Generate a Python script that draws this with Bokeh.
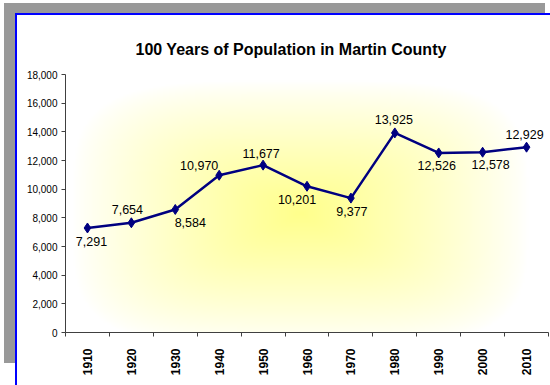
import math
import numpy as np
from bokeh.plotting import figure
from bokeh.models import (ColumnDataSource, FixedTicker, NumeralTickFormatter, Range1d)
from bokeh.core.properties import value
from bokeh.embed import file_html
from bokeh.resources import INLINE

# ---- data ----
title_text = "100 Years of Population in Martin County"
years = [1910, 1920, 1930, 1940, 1950, 1960, 1970, 1980, 1990, 2000, 2010]
population = [7291, 7654, 8584, 10970, 11677, 10201, 9377, 13925, 12526, 12578, 12929]
y_ticks = [0, 2000, 4000, 6000, 8000, 10000, 12000, 14000, 16000, 18000]

# label placement (pixels, screen direction) -- style only
label_dx = [4, -4, 15, -20, -2, -10, 1, -1, -2, 8, -2]
label_dy = [14, -13.5, 12.7, -9.5, -12, 13.5, 13.4, -13, 13, 12, -12.4]

FONT = "Liberation Sans"
NAVY = "#000080"
AXIS = "#404040"

src = ColumnDataSource(dict(
    year=years,
    pop=population,
    label=[f"{v:,}" for v in population],
    dx=label_dx,
    dy=label_dy,
))

# grey shadow + blue-bordered white chart area, drawn as CSS background layers
bg_css = ("linear-gradient(#ffffff,#ffffff) 17px 15px / 100% 100% no-repeat, "
          "linear-gradient(#0000ff,#0000ff) 15px 13px / 100% 100% no-repeat, "
          "linear-gradient(#999999,#999999) 4px 3px / 541px 360px no-repeat, "
          "#ffffff")

x0, x1 = years[0] - 5, years[-1] + 5
p = figure(width=550, height=385, output_backend="svg", toolbar_location=None,
           x_range=Range1d(x0, x1), y_range=Range1d(y_ticks[0], y_ticks[-1]),
           min_border_left=65, min_border_right=2, min_border_top=74,
           min_border_bottom=53,
           styles={"background": bg_css})
p.xgrid.visible = False
p.ygrid.visible = False
p.outline_line_color = None
p.background_fill_color = None
p.border_fill_color = None

# ---- yellow "from centre" background gradient in plot area ----
H, W = 130, 242
xs = np.linspace(x0, x1, W)
ys = np.linspace(y_ticks[0], y_ticks[-1], H)
X, Y = np.meshgrid(xs, ys)
cx, cy = 1958.5, 8300.0
hw, hh = 52.0, 9300.0
t = ((np.abs(X - cx) / hw) ** 4 + (np.abs(Y - cy) / hh) ** 4) ** 0.25
f = np.clip(1 - t, 0, 1) ** 0.85
img = np.empty((H, W), dtype=np.uint32)
view = img.view(dtype=np.uint8).reshape((H, W, 4))
view[..., 0] = 255
view[..., 1] = 255
view[..., 2] = (255 - 115 * f).astype(np.uint8)
view[..., 3] = 255
p.image_rgba(image=[img], x=x0, y=y_ticks[0], dw=x1 - x0, dh=y_ticks[-1] - y_ticks[0],
             level="underlay")

# ---- series ----
p.line(x="year", y="pop", source=src, line_color=NAVY, line_width=2.5)
p.scatter(x="year", y="pop", source=src, marker="diamond", size=10,
          fill_color=NAVY, line_color=NAVY)
p.text(x="year", y="pop", text="label", x_offset="dx", y_offset="dy", source=src,
       text_font=value(FONT), text_font_size=value("12.5px"),
       text_align="center", text_baseline="middle", text_color="black")

# ---- x axis ----
xa = p.xaxis[0]
xa.ticker = FixedTicker(ticks=years,
                        minor_ticks=[y - 5 for y in years] + [years[-1] + 5])
xa.major_label_overrides = {y: str(y) for y in years}
xa.major_tick_line_color = None
xa.major_tick_out = 0
xa.major_tick_in = 0
xa.minor_tick_out = 4
xa.minor_tick_in = 0
xa.minor_tick_line_color = AXIS
xa.axis_line_color = AXIS
xa.major_label_orientation = math.pi / 2
xa.major_label_text_font = FONT
xa.major_label_text_font_style = "bold"
xa.major_label_text_font_size = "12px"
xa.major_label_text_color = "black"
xa.major_label_standoff = 12

# ---- y axis ----
ya = p.yaxis[0]
ya.ticker = FixedTicker(ticks=y_ticks)
ya.formatter = NumeralTickFormatter(format="0,0")
ya.major_tick_out = 4
ya.major_tick_in = 0
ya.minor_tick_line_color = None
ya.major_tick_line_color = AXIS
ya.axis_line_color = AXIS
ya.major_label_text_font = FONT
ya.major_label_text_font_size = "10px"
ya.major_label_text_color = "black"
ya.major_label_standoff = 4

# ---- title ----
p.title.text = title_text
p.title.text_font = FONT
p.title.text_font_style = "bold"
p.title.text_font_size = "16px"
p.title.text_color = "black"
p.title.align = "left"
p.title.offset = 70
p.title.standoff = 34

open("out.html", "w").write(file_html(p, INLINE))
